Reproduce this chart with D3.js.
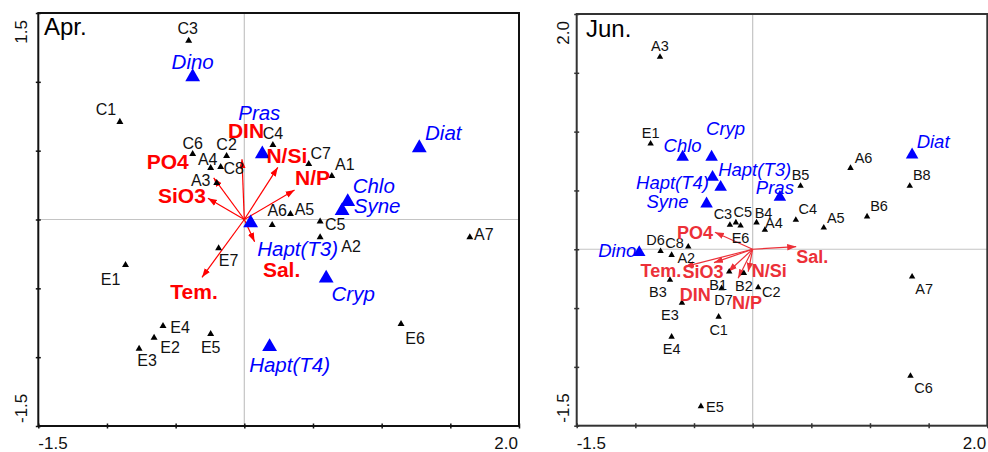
<!DOCTYPE html>
<html>
<head>
<meta charset="utf-8">
<script src="https://cdn.jsdelivr.net/npm/d3@7"></script>
<style>
  body { margin: 0; background: #fff; }
  svg { display: block; font-family: Arial, "Liberation Sans", sans-serif; }
</style>
</head>
<body>
<div id="viz"></div>
<script>
/**********************/
/******* data         */
/**********************/

// April ordination: [name, axis1, axis2]
const aprSites = [
  ["C3", -0.405, 1.299], ["C1", -0.906, 0.709], ["C6", -0.376, 0.476], ["C2", -0.129, 0.461],
  ["A4", -0.245, 0.374], ["C8", -0.172, 0.382], ["A3", -0.201, 0.265], ["C4", 0.208, 0.541],
  ["C7", 0.469, 0.403], ["A1", 0.637, 0.316], ["A6", 0.203, -0.040], ["A5", 0.336, 0.040],
  ["C5", 0.552, -0.015], ["A2", 0.552, -0.129], ["A7", 1.642, -0.129], ["E6", 1.141, -0.759],
  ["E7", -0.187, -0.209], ["E1", -0.865, -0.331], ["E4", -0.592, -0.774], ["E2", -0.657, -0.859],
  ["E3", -0.766, -0.939], ["E5", -0.245, -0.832]
];
const aprTaxa = [
  ["Dino", -0.376, 1.036], ["Pras", 0.131, 0.476], ["Diat", 1.274, 0.520], ["Chlo", 0.753, 0.129],
  ["Syne", 0.712, 0.064], ["Hapt(T3)", 0.046, -0.025], ["Cryp", 0.596, -0.427], ["Hapt(T4)", 0.184, -0.924]
];
const aprEnv = [
  ["DIN", -0.017, 0.437], ["N/Si", 0.244, 0.379], ["N/P", 0.366, 0.214], ["PO4", -0.223, 0.302],
  ["SiO3", -0.265, 0.154], ["Tem.", -0.308, -0.420], ["Sal.", 0.075, -0.161]
];

// June ordination
const junSites = [
  ["A3", -0.790, 1.635], ["E1", -0.870, 0.897], ["A6", 0.834, 0.690], ["B8", 1.339, 0.539],
  ["B5", 0.408, 0.539], ["C4", 0.368, 0.250], ["B6", 0.975, 0.278], ["A5", 0.606, 0.184],
  ["B4", 0.033, 0.227], ["A4", 0.104, 0.164], ["C3", -0.194, 0.207], ["C5", -0.143, 0.227],
  ["E6", -0.103, 0.201], ["D6", -0.785, -0.017], ["C8", -0.691, -0.049], ["A2", -0.549, 0.022],
  ["B3", -0.705, -0.261], ["E3", -0.603, -0.455], ["E4", -0.691, -0.744], ["E5", -0.441, -1.335],
  ["C1", -0.290, -0.574], ["B1", -0.200, -0.191], ["D7", -0.265, -0.332], ["B2", -0.075, -0.204],
  ["C2", 0.047, -0.324], ["A7", 1.359, -0.233], ["C6", 1.345, -1.077]
];
const junTaxa = [
  ["Chlo", -0.597, 0.784], ["Cryp", -0.350, 0.784], ["Hapt(T4)", -0.342, 0.613], ["Hapt(T3)", -0.273, 0.528],
  ["Syne", -0.393, 0.386], ["Pras", 0.232, 0.443], ["Diat", 1.359, 0.803], ["Dino", -0.967, -0.027]
];
const junEnv = [
  ["Sal.", 0.371, 0.022], ["PO4", -0.322, 0.145], ["Tem.", -0.578, -0.148], ["SiO3", -0.330, -0.114],
  ["DIN", -0.209, -0.191], ["N/P", -0.124, -0.247], ["N/Si", -0.038, -0.191]
];

// axes
const aprXTicks = [-1.5, -1.0, -0.5, 0, 0.5, 1.0, 1.5, 2.0];
const aprYTicks = [-1.5, -1.0, -0.5, 0, 0.5, 1.0, 1.5];
const junXTicks = [-1.5, -1.0, -0.5, 0, 0.5, 1.0, 1.5, 2.0];
const junYTicks = [-1.5, -1.0, -0.5, 0, 0.5, 1.0, 1.5, 2.0];

/**********************/
/******* layout       */
/**********************/

// label offsets (px) from the point, label centred there
const aprSiteLabel = {C3:[-1,-12],C1:[-14,-12],C6:[0,-11],C2:[0,-12],A4:[-3,-9],C8:[13,1],A3:[-16,-3],
  C4:[0,-12],C7:[12,-11],A1:[13,-12],A6:[5,-15],A5:[14,-5],C5:[15,3],A2:[31,9],A7:[14,-3],E6:[14,14],
  E7:[10,12],E1:[-15,14],E4:[17,1],E2:[16,10],E3:[8,12],E5:[0,13]};
const aprTaxaLabel = {"Dino":[0,-15],"Pras":[-3,-41],"Diat":[24,-15],"Chlo":[26,-16],"Syne":[35,-5],
  "Hapt(T3)":[47,26],"Cryp":[27,16],"Hapt(T4)":[20,18]};
const aprEnvLabel = {"DIN":[4,-29],"N/Si":[9,-12],"N/P":[18,-12],"PO4":[-46,-16],"SiO3":[-26,-3],
  "Tem.":[-8,14],"Sal.":[27,28]};

const junSiteLabel = {A3:[0,-11],E1:[0,-11],A6:[13,-10],B8:[12,-11],B5:[0,-11],C4:[12,-11],B6:[12,-11],
  A5:[12,-10],B4:[7,-10],A4:[9,-7],C3:[-7,-11],C5:[7,-11],E6:[0,12],D6:[-5,-11],C8:[3,-12],A2:[-2,11],
  B3:[-12,12],E3:[-12,12],E4:[0,12],E5:[14,1],C1:[0,13],B1:[-11,13],D7:[2,12],B2:[0,13],C2:[13,5],
  A7:[12,12],C6:[13,12]};
const junTaxaLabel = {"Chlo":[0,-12],"Cryp":[14,-29],"Hapt(T4)":[-40,5],"Hapt(T3)":[34,-18],
  "Syne":[-39,-2],"Pras":[-5,-10],"Diat":[21,-13],"Dino":[-22,-2]};
const junEnvLabel = {"Sal.":[16,10],"PO4":[-20,0],"Tem.":[-24,4],"SiO3":[-11,9],"DIN":[-33,23],
  "N/P":[9,24],"N/Si":[21,-1]};

const svg = d3.select("#viz").append("svg")
    .attr("width", 988)
    .attr("height", 452);

const defs = svg.append("defs");

const panels = [
  { id: "apr", title: "Apr.", sites: aprSites, taxa: aprTaxa, env: aprEnv,
    siteLabel: aprSiteLabel, taxaLabel: aprTaxaLabel, envLabel: aprEnvLabel,
    xTicks: aprXTicks, yTicks: aprYTicks, xDomain: [-1.5, 2.0], yDomain: [-1.5, 1.5],
    box: { l: 38.3, r: 519, t: 13, b: 426 },
    frame: "#111", red: "#ff0000", siteFont: 16, taxaFont: 20.5, envFont: 21,
    siteSize: 21, taxaSize: 95, titleXY: [44, 35], yLabX: 27,
    yLabels: ["-1.5", "1.5"], xLabels: ["-1.5", "2.0"] },
  { id: "jun", title: "Jun.", sites: junSites, taxa: junTaxa, env: junEnv,
    siteLabel: junSiteLabel, taxaLabel: junTaxaLabel, envLabel: junEnvLabel,
    xTicks: junXTicks, yTicks: junYTicks, xDomain: [-1.5, 2.0], yDomain: [-1.5, 2.0],
    box: { l: 576.7, r: 987.3, t: 14, b: 425.7 },
    frame: "#333", red: "#ec3038", siteFont: 14.5, taxaFont: 18.5, envFont: 18,
    siteSize: 18, taxaSize: 68, titleXY: [586, 37], yLabX: 569,
    yLabels: ["-1.5", "2.0"], xLabels: ["-1.5", "2.0"] }
];

function drawPanel(p) {
  const x = d3.scaleLinear().domain(p.xDomain).range([p.box.l, p.box.r]);
  const y = d3.scaleLinear().domain(p.yDomain).range([p.box.b, p.box.t]);
  const g = svg.append("g").attr("class", p.id);

  // zero lines
  g.append("line")
      .attr("x1", x(0)).attr("x2", x(0))
      .attr("y1", p.box.t).attr("y2", p.box.b)
      .attr("stroke", "#c4c4c4").attr("stroke-width", 1.2);
  g.append("line")
      .attr("x1", p.box.l).attr("x2", p.box.r)
      .attr("y1", y(0)).attr("y2", y(0))
      .attr("stroke", "#c4c4c4").attr("stroke-width", 1.2);

  // arrow head
  defs.append("marker")
      .attr("id", "head-" + p.id)
      .attr("viewBox", "0 -5 10 10")
      .attr("refX", 10).attr("refY", 0)
      .attr("markerUnits", "userSpaceOnUse")
      .attr("markerWidth", 9).attr("markerHeight", 9)
      .attr("orient", "auto")
      .append("path")
      .attr("d", "M0,-3.6L10,0L0,3.6Z")
      .attr("fill", p.red);

  // environmental arrows
  g.selectAll(".env")
      .data(p.env)
      .join("line")
      .attr("class", "env")
      .attr("x1", x(0)).attr("y1", y(0))
      .attr("x2", d => x(d[1])).attr("y2", d => y(d[2]))
      .attr("stroke", p.red).attr("stroke-width", 1.2)
      .attr("marker-end", `url(#head-${p.id})`);

  // site points
  g.selectAll(".site")
      .data(p.sites)
      .join("path")
      .attr("class", "site")
      .attr("d", d3.symbol().type(d3.symbolTriangle).size(p.siteSize))
      .attr("transform", d => `translate(${x(d[1])},${y(d[2])})`)
      .attr("fill", "#000");

  // taxa points
  g.selectAll(".taxon")
      .data(p.taxa)
      .join("path")
      .attr("class", "taxon")
      .attr("d", d3.symbol().type(d3.symbolTriangle).size(p.taxaSize))
      .attr("transform", d => `translate(${x(d[1])},${y(d[2])})`)
      .attr("fill", "#0000ff");

  // labels
  g.selectAll(".site-label")
      .data(p.sites)
      .join("text")
      .attr("class", "site-label")
      .attr("x", d => x(d[1]) + p.siteLabel[d[0]][0])
      .attr("y", d => y(d[2]) + p.siteLabel[d[0]][1])
      .attr("dy", "0.35em")
      .attr("text-anchor", "middle")
      .style("font-size", p.siteFont + "px")
      .attr("fill", "#111")
      .text(d => d[0]);

  g.selectAll(".taxon-label")
      .data(p.taxa)
      .join("text")
      .attr("class", "taxon-label")
      .attr("x", d => x(d[1]) + p.taxaLabel[d[0]][0])
      .attr("y", d => y(d[2]) + p.taxaLabel[d[0]][1])
      .attr("dy", "0.35em")
      .attr("text-anchor", "middle")
      .style("font-size", p.taxaFont + "px")
      .style("font-style", "italic")
      .attr("fill", "#0000ff")
      .text(d => d[0]);

  g.selectAll(".env-label")
      .data(p.env)
      .join("text")
      .attr("class", "env-label")
      .attr("x", d => x(d[1]) + p.envLabel[d[0]][0])
      .attr("y", d => y(d[2]) + p.envLabel[d[0]][1])
      .attr("dy", "0.35em")
      .attr("text-anchor", "middle")
      .style("font-size", p.envFont + "px")
      .style("font-weight", "bold")
      .attr("fill", p.red)
      .text(d => d[0]);

  // frame
  g.append("rect")
      .attr("x", p.box.l).attr("y", p.box.t)
      .attr("width", p.box.r - p.box.l).attr("height", p.box.b - p.box.t)
      .attr("fill", "none")
      .attr("stroke", p.frame).attr("stroke-width", 2);

  // ticks crossing the axis lines
  g.append("g")
      .attr("transform", `translate(${p.box.l + 2.5},0)`)
      .attr("color", p.frame)
      .call(d3.axisLeft(y).tickValues(p.yTicks).tickSize(5).tickFormat(""))
      .call(a => a.select(".domain").remove())
      .selectAll("line").attr("stroke-width", 1.5);
  g.append("g")
      .attr("transform", `translate(0,${p.box.b - 2.5})`)
      .attr("color", p.frame)
      .call(d3.axisBottom(x).tickValues(p.xTicks).tickSize(5).tickFormat(""))
      .call(a => a.select(".domain").remove())
      .selectAll("line").attr("stroke-width", 1.5);

  // end labels
  g.append("text")
      .attr("transform", `translate(${p.yLabX},${p.box.b - 3}) rotate(-90)`)
      .attr("text-anchor", "start")
      .style("font-size", "17px").attr("fill", "#111")
      .text(p.yLabels[0]);
  g.append("text")
      .attr("transform", `translate(${p.yLabX},${p.box.t + 7}) rotate(-90)`)
      .attr("text-anchor", "end")
      .style("font-size", "17px").attr("fill", "#111")
      .text(p.yLabels[1]);
  g.append("text")
      .attr("x", p.box.l).attr("y", 449)
      .attr("text-anchor", "start")
      .style("font-size", "17px").attr("fill", "#111")
      .text(p.xLabels[0]);
  g.append("text")
      .attr("x", p.box.r - 1).attr("y", 449)
      .attr("text-anchor", "end")
      .style("font-size", "17px").attr("fill", "#111")
      .text(p.xLabels[1]);

  // title
  g.append("text")
      .attr("x", p.titleXY[0]).attr("y", p.titleXY[1])
      .style("font-size", "24px").attr("fill", "#000")
      .text(p.title);
}

panels.forEach(drawPanel);
</script>
</body>
</html>
